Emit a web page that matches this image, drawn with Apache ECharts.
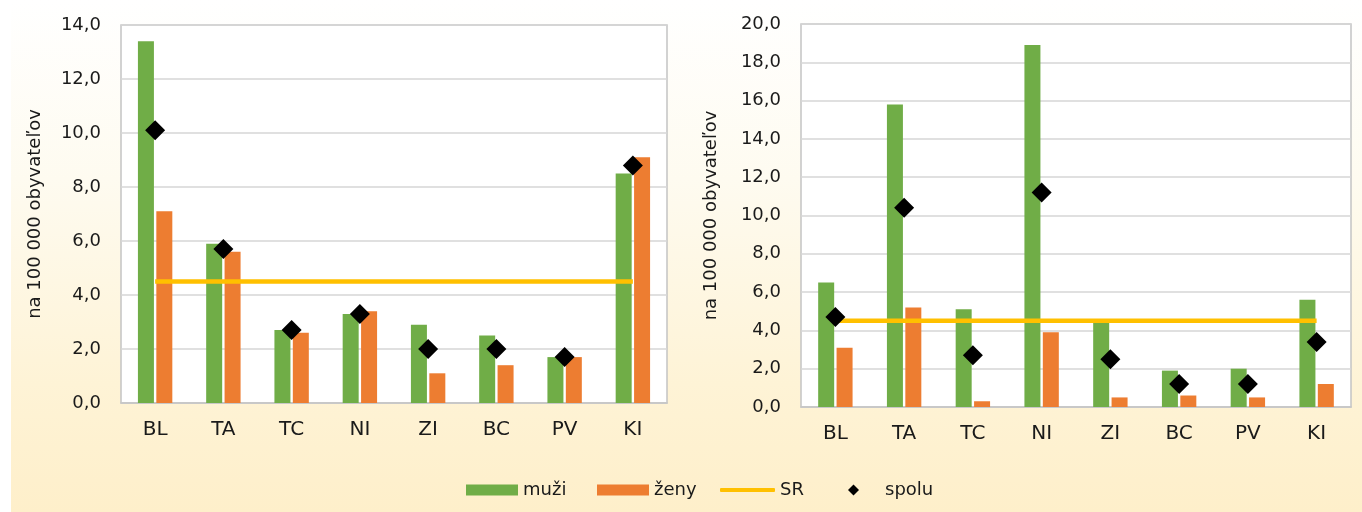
<!DOCTYPE html>
<html>
<head>
<meta charset="utf-8">
<script src="https://cdn.jsdelivr.net/npm/echarts@6/dist/echarts.min.js"></script>
<style>
html,body{margin:0;padding:0;background:#fff;}
#bg{position:absolute;left:11px;top:0;width:1351px;height:512px;background:linear-gradient(to bottom,#ffffff 0%,#fefbf0 35%,#fef3d6 75%,#feefca 100%);}
#chart{position:absolute;left:0;top:0;width:1362px;height:512px;}
</style>
</head>
<body>
<div id="bg"></div>
<div id="chart"></div>
<script>
const categories = ['BL','TA','TC','NI','ZI','BC','PV','KI'];
// left panel
const muzi1  = [13.4, 5.9, 2.7, 3.3, 2.9, 2.5, 1.7, 8.5];
const zeny1  = [7.1, 5.6, 2.6, 3.4, 1.1, 1.4, 1.7, 9.1];
const spolu1 = [10.1, 5.7, 2.7, 3.3, 2.0, 2.0, 1.7, 8.8];
const sr1    = [4.5, 4.5, 4.5, 4.5, 4.5, 4.5, 4.5, 4.5];
// right panel
const muzi2  = [6.5, 15.8, 5.1, 18.9, 4.4, 1.9, 2.0, 5.6];
const zeny2  = [3.1, 5.2, 0.3, 3.9, 0.5, 0.6, 0.5, 1.2];
const spolu2 = [4.7, 10.4, 2.7, 11.2, 2.5, 1.2, 1.2, 3.4];
const sr2    = [4.5, 4.5, 4.5, 4.5, 4.5, 4.5, 4.5, 4.5];
const yName = 'na 100 000 obyvateľov';

const FONT = '"DejaVu Sans",sans-serif';
const TXT = '#1a1a1a';
const GREEN = '#70AD47', ORANGE = '#ED7D31', GOLD = '#FFC000';

const chart = echarts.init(document.getElementById('chart'), null, {renderer:'canvas'});

function xAxis(gi){
  return {
    type:'category', gridIndex:gi, data:categories,
    axisLine:{show:true, lineStyle:{color:'#C4C4C4', width:1.5}},
    axisTick:{show:false},
    axisLabel:{color:TXT, fontFamily:FONT, fontSize:20, margin:17}
  };
}
function yAxis(gi, max, gap){
  return {
    type:'value', gridIndex:gi, min:0, max:max, interval:2,
    name:yName, nameLocation:'middle', nameGap:gap, nameRotate:90,
    nameTextStyle:{color:TXT, fontFamily:FONT, fontSize:18},
    axisLine:{show:false}, axisTick:{show:false},
    axisLabel:{color:TXT, fontFamily:FONT, fontSize:18, margin:20,
      formatter:v=>v.toFixed(1).replace('.', ',')},
    splitLine:{show:true, lineStyle:{color:'#D6D6D6', width:1.5}}
  };
}
function barSeries(name, data, color, gi){
  return {name, type:'bar', xAxisIndex:gi, yAxisIndex:gi, data,
    barWidth:16, barGap:'15%', itemStyle:{color}, z:2};
}
function lineSeries(data, gi){
  return {name:'SR', type:'line', xAxisIndex:gi, yAxisIndex:gi, data,
    symbol:'none', showSymbol:false, lineStyle:{color:GOLD, width:4.5}, itemStyle:{color:GOLD}, z:3};
}
function scatterSeries(data, gi){
  return {name:'spolu', type:'scatter', xAxisIndex:gi, yAxisIndex:gi, data,
    symbol:'diamond', symbolSize:20, itemStyle:{color:'#000', opacity:1, borderWidth:0}, z:4};
}
function legend(left, name, icon, w, h, pad){
  return {left, top:476, itemWidth:w, itemHeight:h, itemGap:0, selectedMode:false,
    textStyle:{color:TXT, fontFamily:FONT, fontSize:18, padding:[0,0,0,pad||0]},
    data:[{name, icon, itemStyle:{opacity:1}}]};
}

chart.setOption({
  backgroundColor:'transparent',
  animation:false,
  grid:[
    {left:121, right:695, top:25, bottom:109, show:true, backgroundColor:'#ffffff', borderColor:'#C4C4C4', borderWidth:1.5},
    {left:801, right:11, top:24, bottom:105, show:true, backgroundColor:'#ffffff', borderColor:'#C4C4C4', borderWidth:1.5}
  ],
  xAxis:[xAxis(0), xAxis(1)],
  yAxis:[yAxis(0, 14, 77), yAxis(1, 20, 81)],
  legend:[
    legend(461, 'muži', 'rect', 52, 11),
    legend(592, 'ženy', 'rect', 52, 11),
    legend(715, 'SR', 'roundRect', 55, 4),
    legend(843, 'spolu', 'diamond', 11, 11, 21)
  ],
  series:[
    barSeries('muži', muzi1, GREEN, 0),
    barSeries('ženy', zeny1, ORANGE, 0),
    lineSeries(sr1, 0),
    scatterSeries(spolu1, 0),
    barSeries('muži', muzi2, GREEN, 1),
    barSeries('ženy', zeny2, ORANGE, 1),
    lineSeries(sr2, 1),
    scatterSeries(spolu2, 1)
  ]
});
</script>
</body>
</html>
